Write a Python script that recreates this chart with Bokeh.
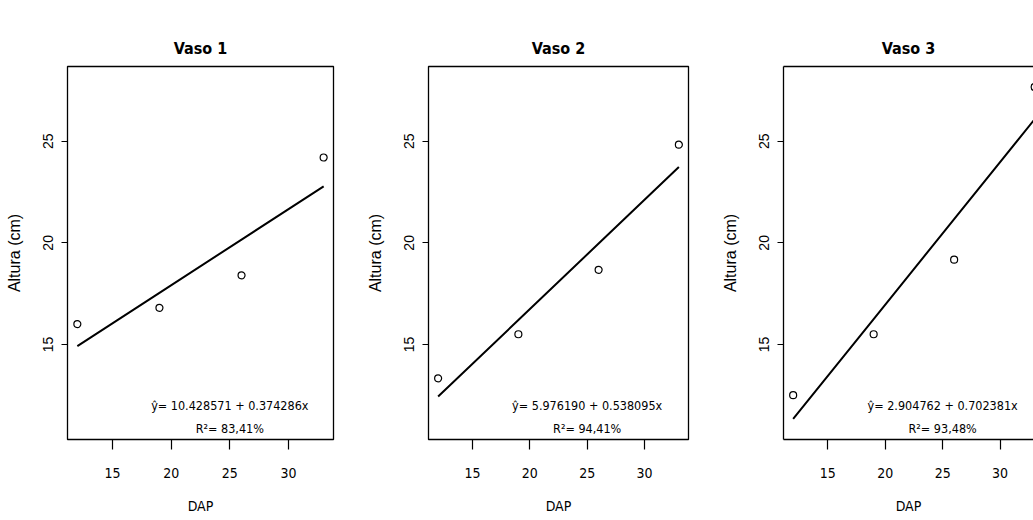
from bokeh.plotting import figure
from bokeh.models import Range1d, FixedTicker, LinearAxis, ColumnDataSource, Label
from bokeh.layouts import row
from bokeh.embed import file_html
from bokeh.resources import INLINE

# ---- data ----
dap = [12, 19, 26, 33]
vaso1 = [16.0, 16.8, 18.4, 24.2]
vaso2 = [13.33, 15.5, 18.67, 24.83]
vaso3 = [12.5, 15.5, 19.17, 27.67]
titles = ["Vaso 1", "Vaso 2", "Vaso 3"]
intercepts = [10.428571, 5.976190, 2.904762]
slopes = [0.374286, 0.538095, 0.702381]
eq_labels = ["ŷ= 10.428571 + 0.374286x", "ŷ= 5.976190 + 0.538095x", "ŷ= 2.904762 + 0.702381x"]
r2_labels = ["R²= 83,41%", "R²= 94,41%", "R²= 93,48%"]
x_ticks = [15, 20, 25, 30]
y_ticks = [15, 20, 25]
x_label = "DAP"
y_label = "Altura (cm)"
x_lim = (12, 33)
y_lim = (11, 28)
eq_pos = (25, 12.0)
r2_pos = (25, 10.85)

NARROW = "'DejaVu Sans Condensed', 'Liberation Sans', sans-serif"
SANS = "'Liberation Sans', sans-serif"

def padded(lim):
    span = lim[1] - lim[0]
    return lim[0] - 0.04 * span, lim[1] + 0.04 * span

xr = padded(x_lim)
yr = padded(y_lim)

series = [vaso1, vaso2, vaso3]
H = 516
TOP = 66
figs = []
for i in range(3):
    last = i == 2
    frame_w = 255 if last else 266
    bl = [67, 59, 60][i]
    br = 0 if last else 30
    x_end = xr[0] + (xr[1] - xr[0]) * frame_w / 266.0
    p = figure(width=bl + frame_w + br, height=H, output_backend="svg", toolbar_location=None,
               x_range=Range1d(xr[0], x_end), y_range=Range1d(yr[0], yr[1]),
               min_border_left=bl, min_border_right=br, min_border_top=TOP, min_border_bottom=74,
               title=titles[i])
    p.grid.visible = False
    p.background_fill_color = "white"
    p.border_fill_color = "white"
    p.title.align = "center"
    p.title.vertical_align = "bottom"
    p.title.standoff = 18
    p.title.text_font = NARROW
    p.title.text_font_size = "16px"
    p.title.text_font_style = "bold"
    p.title.text_color = "black"
    if last:
        # centre the title over the full (uncut) plotting region
        p.title.offset = (266 - frame_w) / 2.0

    if last:
        p.outline_line_color = None
    else:
        p.outline_line_color = "black"
        p.outline_line_width = 1.3

    xa = p.below[0]
    xa.ticker = FixedTicker(ticks=x_ticks)
    xa.major_tick_out = 10
    xa.major_tick_in = 0
    xa.minor_tick_line_color = None
    xa.major_tick_line_color = "black"
    xa.major_tick_line_width = 1.2
    xa.axis_line_color = "black" if last else None
    xa.axis_line_width = 1.3
    xa.major_label_text_font = NARROW
    xa.major_label_text_font_size = "14px"
    xa.major_label_text_color = "black"
    xa.major_label_standoff = 18
    xa.axis_label = x_label
    xa.axis_label_text_font = NARROW
    xa.axis_label_text_font_size = "14px"
    xa.axis_label_text_font_style = "normal"
    xa.axis_label_text_color = "black"
    xa.axis_label_standoff = 17

    ya = p.left[0]
    ya.ticker = FixedTicker(ticks=y_ticks)
    ya.major_tick_out = 6
    ya.major_tick_in = 0
    ya.minor_tick_line_color = None
    ya.major_tick_line_color = "black"
    ya.major_tick_line_width = 1.2
    ya.axis_line_color = "black" if last else None
    ya.axis_line_width = 1.3
    ya.major_label_orientation = "vertical"
    ya.major_label_text_font = SANS
    ya.major_label_text_font_size = "14px"
    ya.major_label_text_color = "black"
    ya.major_label_standoff = 8
    ya.axis_label = y_label
    ya.axis_label_text_font = SANS
    ya.axis_label_text_font_size = "16px"
    ya.axis_label_text_font_style = "normal"
    ya.axis_label_text_color = "black"
    ya.axis_label_standoff = 18

    # empty top axis: spacer between frame and title (and top border line on the cut panel)
    top = LinearAxis(ticker=FixedTicker(ticks=[]), major_label_standoff=0,
                     major_tick_out=20, major_tick_in=0, minor_tick_out=0, minor_tick_in=0,
                     major_tick_line_color=None, minor_tick_line_color=None,
                     axis_line_color="black" if last else None, axis_line_width=1.3,
                     major_label_text_font_size="0px")
    p.add_layout(top, "above")

    ys = series[i]
    fit = [intercepts[i] + slopes[i] * x for x in dap]
    src = ColumnDataSource(dict(x=dap, y=ys, fit=fit))
    p.line("x", "fit", source=src, line_color="black", line_width=2)
    p.scatter("x", "y", source=src, size=7, marker="circle", fill_color=None,
              line_color="black", line_width=1.2)

    p.add_layout(Label(x=eq_pos[0], y=eq_pos[1], text=eq_labels[i], text_align="center",
                       text_baseline="middle", text_font=NARROW, text_font_size="12.5px",
                       text_color="black"))
    p.add_layout(Label(x=r2_pos[0], y=r2_pos[1], text=r2_labels[i], text_align="center",
                       text_baseline="middle", text_font=NARROW, text_font_size="12.5px",
                       text_color="black"))
    figs.append(p)

layout = row(*figs)
open("out.html", "w").write(file_html(layout, INLINE))
